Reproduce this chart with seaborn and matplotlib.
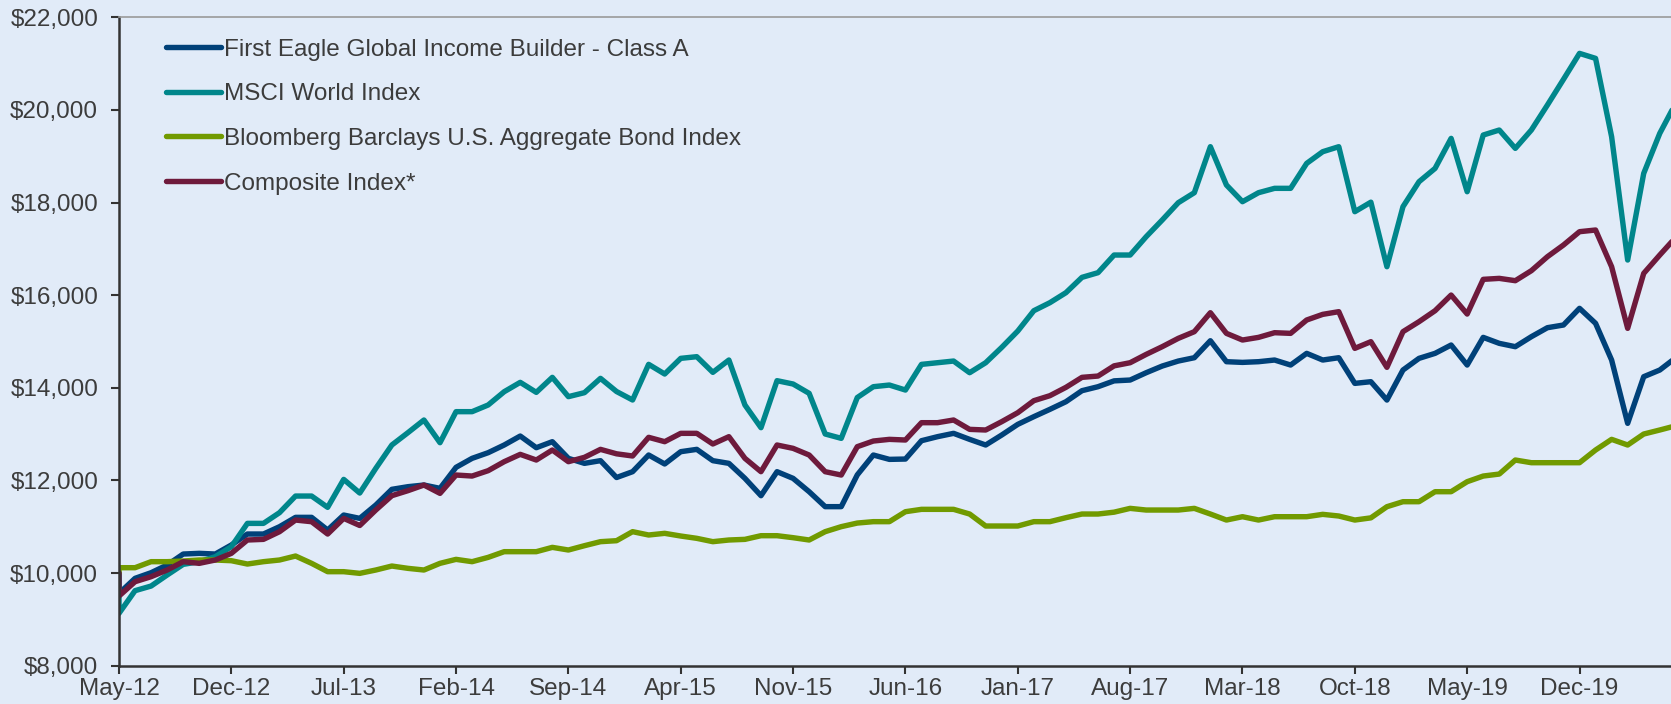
import pandas as pd
import seaborn as sns
from matplotlib import pyplot as plt
from matplotlib.ticker import StrMethodFormatter

# month index 0 = May-12; the first value is the $10,000 start, drawn at the same month
months = [0] + list(range(98))

fund = [10000,
        9560, 9886, 10008, 10174, 10411, 10426, 10411, 10606, 10843, 10843,
        11001, 11203, 11203, 10929, 11253, 11181, 11469, 11808, 11865, 11901,
        11829, 12283, 12477, 12599, 12765, 12959, 12707, 12837, 12477, 12369,
        12427, 12063, 12189, 12549, 12355, 12621, 12671, 12427, 12369, 12045,
        11671, 12189, 12045, 11757, 11434, 11434, 12120, 12549, 12455, 12462,
        12858, 12945, 13017, 12887, 12765, 12981, 13211, 13377, 13535, 13700,
        13938, 14024, 14150, 14168, 14326, 14470, 14578, 14650, 15017, 14564,
        14549, 14564, 14600, 14492, 14744, 14600, 14650, 14096, 14132, 13736,
        14384, 14636, 14744, 14924, 14492, 15089, 14960, 14888, 15104, 15298,
        15356, 15716, 15392, 14600, 13233, 14240, 14384, 14650]

msci = [10000,
        9130, 9620, 9720, 9958, 10188, 10246, 10354, 10570, 11073, 11073,
        11304, 11663, 11663, 11419, 12023, 11728, 12261, 12765, 13031, 13305,
        12815, 13485, 13485, 13629, 13916, 14118, 13902, 14226, 13809, 13895,
        14204, 13920, 13737, 14507, 14298, 14636, 14672, 14334, 14600, 13629,
        13139, 14154, 14082, 13881, 13003, 12909, 13790, 14024, 14060, 13952,
        14506, 14542, 14578, 14326, 14542, 14873, 15226, 15665, 15838, 16054,
        16385, 16486, 16867, 16867, 17263, 17623, 17997, 18213, 19206, 18379,
        18019, 18213, 18307, 18307, 18846, 19098, 19206, 17803, 18008, 16615,
        17911, 18450, 18738, 19386, 18234, 19458, 19566, 19170, 19566, 20106,
        20660, 21221, 21113, 19422, 16759, 18630, 19494, 20150]

bond = [10000,
        10116, 10116, 10246, 10246, 10260, 10282, 10282, 10267, 10195, 10246,
        10282, 10368, 10210, 10030, 10030, 9994, 10066, 10152, 10102, 10066,
        10210, 10296, 10246, 10339, 10462, 10462, 10462, 10555, 10498, 10591,
        10678, 10699, 10894, 10822, 10858, 10800, 10750, 10678, 10714, 10728,
        10807, 10807, 10764, 10714, 10894, 11002, 11080, 11110, 11110, 11325,
        11376, 11376, 11376, 11275, 11016, 11016, 11016, 11110, 11110, 11196,
        11275, 11275, 11315, 11397, 11361, 11361, 11361, 11397, 11275, 11145,
        11217, 11145, 11217, 11217, 11217, 11268, 11232, 11145, 11192, 11433,
        11541, 11541, 11757, 11757, 11973, 12095, 12138, 12441, 12383, 12383,
        12383, 12383, 12657, 12887, 12765, 13002, 13089, 13180]

composite = [10000,
             9504, 9814, 9922, 10066, 10246, 10210, 10282, 10426, 10714, 10728,
             10893, 11145, 11109, 10843, 11181, 11027, 11361, 11671, 11779, 11901,
             11721, 12117, 12095, 12211, 12405, 12563, 12441, 12657, 12405, 12499,
             12671, 12575, 12528, 12931, 12837, 13017, 13017, 12787, 12945, 12477,
             12189, 12765, 12693, 12549, 12189, 12117, 12729, 12851, 12887, 12873,
             13247, 13247, 13305, 13103, 13089, 13269, 13463, 13722, 13830, 14010,
             14226, 14254, 14474, 14542, 14722, 14888, 15068, 15212, 15622, 15176,
             15032, 15089, 15190, 15176, 15464, 15586, 15644, 14852, 14996, 14442,
             15212, 15428, 15665, 16003, 15593, 16342, 16363, 16313, 16529, 16831,
             17083, 17371, 17407, 16615, 15284, 16471, 16867, 17250]

series_names = ["First Eagle Global Income Builder - Class A",
                "MSCI World Index",
                "Bloomberg Barclays U.S. Aggregate Bond Index",
                "Composite Index*"]
series_colors = ["#004179", "#00868B", "#719A00", "#6E1A3C"]

tick_pos = [0, 7, 14, 21, 28, 35, 42, 49, 56, 63, 70, 77, 84, 91]
tick_labels = ["May-12", "Dec-12", "Jul-13", "Feb-14", "Sep-14", "Apr-15", "Nov-15",
               "Jun-16", "Jan-17", "Aug-17", "Mar-18", "Oct-18", "May-19", "Dec-19"]

bg = "#E1EBF8"
txt = "#3C3C3C"
fsize = 17.5

sns.set_theme(style="white")
plt.rcParams['font.family'] = ['Liberation Sans', 'DejaVu Sans']

fig = plt.figure(figsize=(16.71, 7.04), dpi=100, facecolor=bg)
ax = fig.add_axes([119 / 1671, 38.3 / 704, 1 - 119 / 1671, (665.7 - 17.3) / 704])
ax.set_facecolor(bg)

for vals, name, col in zip([fund, msci, bond, composite], series_names, series_colors):
    df = pd.DataFrame({"month": months, "value": vals})
    sns.lineplot(data=df, x="month", y="value", ax=ax, color=col, label=name,
                 estimator=None, sort=False, linewidth=3.9,
                 solid_capstyle="round", solid_joinstyle="round")

ax.set_xlim(0, 96.7)
ax.set_ylim(8000, 22000)
ax.set_yticks(range(8000, 22001, 2000))
ax.yaxis.set_major_formatter(StrMethodFormatter("${x:,.0f}"))
ax.set_xticks(tick_pos)
ax.set_xticklabels(tick_labels)
ax.set_xlabel("")
ax.set_ylabel("")

ax.tick_params(axis="both", direction="out", length=6, width=1.5, color="#333333",
               labelsize=fsize, labelcolor=txt)
ax.tick_params(axis="y", pad=9)
ax.tick_params(axis="x", pad=3)
ax.tick_params(left=True, bottom=True)

for s in ["left", "bottom"]:
    ax.spines[s].set_color("#333333")
    ax.spines[s].set_linewidth(1.8)
ax.spines["top"].set_color("#9A9A9A")
ax.spines["top"].set_linewidth(1.2)
ax.spines["right"].set_visible(False)

leg = ax.legend(loc="upper left", bbox_to_anchor=(0.024, 0.982), frameon=False,
                fontsize=fsize, handlelength=2.26, handletextpad=0.12, labelspacing=0.93,
                borderaxespad=0)
for t in leg.get_texts():
    t.set_color(txt)
for h in leg.legend_handles:
    h.set_linewidth(3.9)

fig.savefig("out.png", dpi=100, facecolor=bg)
